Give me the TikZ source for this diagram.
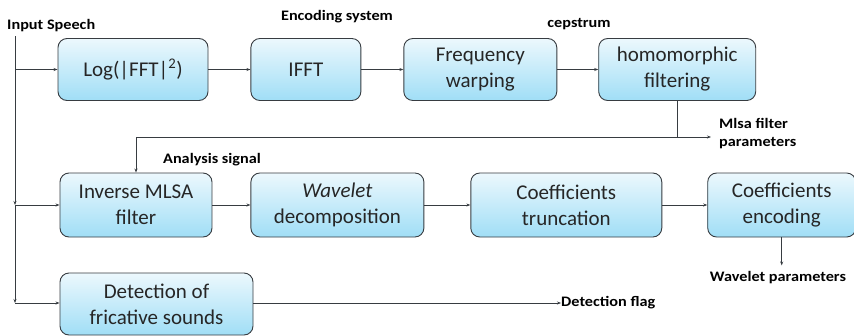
\documentclass[tikz,border=0pt]{standalone}
\usepackage{fontspec}
\setmainfont{Carlito}
\newfontfamily\lblfont[FakeStretch=1.12]{Carlito}
\usepackage{tikz}
\usetikzlibrary{arrows.meta, positioning}
\definecolor{boxtop}{RGB}{236,248,253}
\definecolor{boxbot}{RGB}{160,222,246}
\definecolor{edgegray}{RGB}{55,60,65}

\begin{document}
\begin{tikzpicture}[
			x=1pt, y=-1pt,
			node distance=42pt,
			stage/.style={draw=edgegray, line width=0.9pt, top color=boxtop, bottom color=boxbot, rounded corners=9pt, align=center, font=\fontsize{21}{26}\selectfont, text=black!85, minimum height=62pt, inner sep=2pt},
			lbl/.style={font=\lblfont\bfseries\fontsize{14.5}{18}\selectfont, inner sep=0pt},
			arr/.style={-{Stealth[length=4pt, width=3pt]}, line width=0.7pt, edgegray}]
			\useasboundingbox (0,0) rectangle (854,335);
			% first row
			\node[stage, minimum width=150pt] (log) at (133,69.5) {Log(|FFT|\textsuperscript{2})};
			\node[stage, minimum width=110pt, right=of log] (ifft) {IFFT};
			\node[stage, minimum width=153pt, right=of ifft] (warp) {Frequency\\warping};
			\node[stage, minimum width=157pt, right=41pt of warp] (homo) {homomorphic\\filtering};
			% second row
			\node[stage, minimum width=152pt, minimum height=64pt] (inv) at (136,205) {Inverse MLSA\\filter};
			\node[stage, minimum width=173pt, minimum height=64pt, right=38pt of inv] (wav) {\textit{Wavelet}\\decomposition};
			\node[stage, minimum width=191pt, minimum height=64pt, right=46pt of wav] (trunc) {Coefficients\\truncation};
			\node[stage, minimum width=148pt, minimum height=64pt, right=45pt of trunc] (enc) {Coefficients\\encoding};
			% third row
			\node[stage, minimum width=193pt] (det) at (156.5,304) {Detection of\\fricative sounds};
			% labels
			\node[lbl, anchor=west] (speech) at (7,26) {Input Speech};
			\node[lbl] (encsys) at (337,17) {Encoding system};
			\node[lbl] (ceps) at (579,24) {cepstrum};
			\node[lbl] (anasig) at (212,160) {Analysis signal};
			\node[lbl, anchor=west, align=left] (mlsapar) at (719,134) {Mlsa filter\\parameters};
			\node[lbl] (wavpar) at (778,278) {Wavelet parameters};
			\node[lbl, anchor=west] (flag) at (561,303) {Detection flag};
			% input line
			\coordinate (top) at (15,36);
			\coordinate (j1) at (15,69.5);
			\coordinate (j2) at (15,205);
			\coordinate (j3) at (15,303);
			\draw[arr] (top) -- (j2);
			\draw[arr] (j2) -- (j3);
			\draw[arr] (j1) -- (log.west);
			\draw[arr] (j2) -- (inv.west);
			\draw[arr] (j3) -- (det.west |- j3);
			% chains
			\draw[arr] (log) -- (ifft);
			\draw[arr] (ifft) -- (warp);
			\draw[arr] (warp) -- (homo);
			\draw[arr] (inv) -- (wav);
			\draw[arr] (wav) -- (trunc);
			\draw[arr] (trunc) -- (enc);
			% outputs
			\coordinate (split) at (homo.south |- 0,137);
			\coordinate (mlsaout) at (711,137);
			\draw[line width=0.7pt, edgegray] (homo.south) -- (split);
			\draw[arr] (split) -| (inv.north);
			\draw[arr] (split) -- (mlsaout);
			\draw[arr] (enc.south) -- ++(0,28);
			\draw[arr] (det.east |- j3) -- (flag.west);
		\end{tikzpicture}
\end{document}
